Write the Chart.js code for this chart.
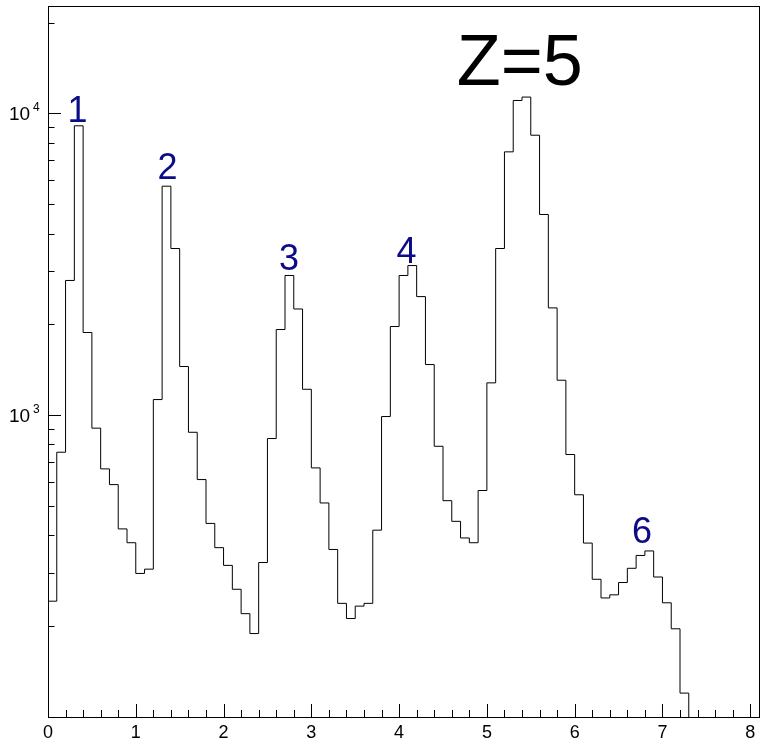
<!DOCTYPE html>
<html>
<head>
<meta charset="utf-8">
<script src="https://cdn.jsdelivr.net/npm/chart.js@4/dist/chart.umd.min.js"></script>
<style>
  html, body { margin: 0; padding: 0; background: #fff; }
  #wrap { width: 764px; height: 746px; }
</style>
</head>
<body>
<div id="wrap"><canvas id="histChart" width="764" height="746"></canvas></div>
<script>
// histogram binning
var binLow = 0;
var binWidth = 0.1;
var xMax = 8.1;

// counts per bin (bins of 0.1 starting at 0)
var counts = [242, 754, 2796, 9100, 1880, 906, 664, 589, 420, 378,
              299, 309, 1127, 5740, 3568, 1450, 878, 612, 438, 364,
              318, 265, 220, 189, 325, 837, 1923, 2904, 2249, 1219,
              669, 512, 359, 238, 212, 233, 238, 416, 990, 1968,
              2904, 3133, 2472, 1472, 789, 521, 445, 392, 378, 563,
              1280, 3568, 7460, 11040, 11330, 8470, 4625, 2268, 1306, 741,
              545, 377, 286, 248, 254, 279, 311, 343, 355, 291,
              239, 196, 120, 0, 0, 0, 0, 0, 0, 0, 0];

// axis ticks
var xTickValues = [0, 1, 2, 3, 4, 5, 6, 7, 8];
var yTickValues = [1000, 10000];
var yTickExps = ['3', '4'];
var yMin = 100;
var yMax = 22700;

// peak labels
var peakNames = ['1', '2', '3', '4', '6'];
var peakX = [0.336, 1.361, 2.745, 4.083, 6.767];
var peakY = [9350, 6055, 3024, 3190, 377];

// empty bins sit below the axis floor (like ROOT on a log scale)
var points = counts.map(function (c, i) {
    return { x: binLow + i * binWidth, y: c > 0 ? c : yMin / 10 };
});
points.push({ x: xMax, y: points[points.length - 1].y });

var rootAxes = {
    id: 'rootAxes',
    afterDraw: function (chart) {
        var ctx = chart.ctx;
        var a = chart.chartArea;
        var xs = chart.scales.x, ys = chart.scales.y;
        ctx.save();
        ctx.strokeStyle = '#000';
        ctx.lineWidth = 1;

        // frame
        ctx.strokeRect(a.left + 0.5, a.top + 0.5, a.right - a.left, a.bottom - a.top);

        // x ticks (inside)
        ctx.beginPath();
        for (var t = 0; t <= xMax + 1e-9; t += 0.2) {
            var v = Math.round(t * 10) / 10;
            var px = Math.round(xs.getPixelForValue(v)) + 0.5;
            var len = Math.abs(v - Math.round(v)) < 1e-6 ? 13 : 7;
            ctx.moveTo(px, a.bottom);
            ctx.lineTo(px, a.bottom - len);
        }
        // y ticks (inside)
        for (var d = 100; d <= 10000; d *= 10) {
            for (var m = 1; m <= 9; m++) {
                var val = d * m;
                if (val < yMin || val > yMax) continue;
                var py = Math.round(ys.getPixelForValue(val)) + 0.5;
                var l = m === 1 ? 13 : 6.5;
                ctx.moveTo(a.left, py);
                ctx.lineTo(a.left + l, py);
            }
        }
        ctx.stroke();

        // x tick labels
        ctx.fillStyle = '#000';
        ctx.font = '18px "Liberation Sans", Arial, sans-serif';
        ctx.textAlign = 'center';
        ctx.textBaseline = 'alphabetic';
        xTickValues.forEach(function (v) {
            ctx.fillText(String(v), xs.getPixelForValue(v), a.bottom + 21);
        });

        // y tick labels 10^n
        yTickValues.forEach(function (v, i) {
            var py = ys.getPixelForValue(v);
            ctx.font = '19px "Liberation Sans", Arial, sans-serif';
            ctx.textAlign = 'left';
            ctx.fillText('10', 9, py + 7);
            ctx.font = '12px "Liberation Sans", Arial, sans-serif';
            ctx.fillText(yTickExps[i], 33, py - 2);
        });

        // peak labels
        ctx.textAlign = 'center';
        ctx.fillStyle = '#0c0c86';
        ctx.font = '36px "Liberation Sans", Arial, sans-serif';
        peakNames.forEach(function (s, i) {
            ctx.fillText(s, xs.getPixelForValue(peakX[i]), ys.getPixelForValue(peakY[i]));
        });

        // big annotation
        ctx.fillStyle = '#000';
        ctx.font = '72px "Liberation Sans", Arial, sans-serif';
        ctx.fillText('Z=5', xs.getPixelForValue(5.375), ys.getPixelForValue(12410));
        ctx.restore();
    }
};

var ctx1 = document.getElementById('histChart').getContext('2d');
var histChart = new Chart(ctx1, {
    type: 'line',
    data: {
        datasets: [{
            data: points,
            stepped: 'before',
            borderColor: '#000',
            borderWidth: 1,
            pointRadius: 0,
            fill: false
        }]
    },
    options: {
        responsive: false,
        animation: false,
        layout: { padding: { left: 48, top: 6, right: 5, bottom: 29 } },
        plugins: {
            legend: { display: false },
            tooltip: { enabled: false }
        },
        scales: {
            x: { type: 'linear', min: binLow, max: xMax, display: false },
            y: { type: 'logarithmic', min: yMin, max: yMax, display: false }
        }
    },
    plugins: [rootAxes]
});
</script>
</body>
</html>
